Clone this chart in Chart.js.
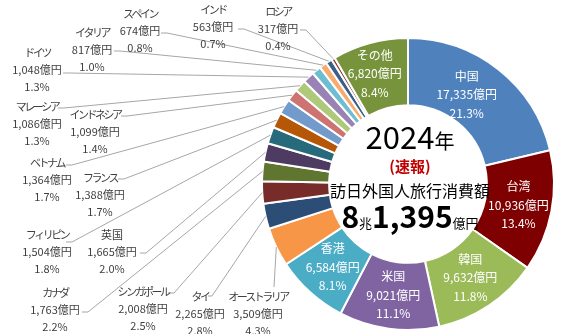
<!DOCTYPE html>
<html>
<head>
<meta charset="utf-8">
<script src="https://cdn.jsdelivr.net/npm/chart.js@4.4.1/dist/chart.umd.min.js"></script>
<style>
    body { margin: 0; background: #fff; }
    #wrap { width: 573px; height: 334px; }
</style>
</head>
<body>
<div id="wrap"><canvas id="spendChart" width="573" height="334"></canvas></div>
<script>
    // 2024年 訪日外国人旅行消費額（速報）国・地域別
    const countries = ['中国', '台湾', '韓国', '米国', '香港', 'オーストラリア', 'タイ', 'シンガポール', 'カナダ', '英国',
        'フィリピン', 'フランス', 'ベトナム', 'インドネシア', 'マレーシア', 'ドイツ', 'イタリア', 'スペイン', 'インド', 'ロシア', 'その他'];
    const spendOku = [17335, 10936, 9632, 9021, 6584, 3509, 2265, 2008, 1763, 1665,
        1504, 1388, 1364, 1099, 1086, 1048, 817, 674, 563, 317, 6820];
    const shares = ['21.3%', '13.4%', '11.8%', '11.1%', '8.1%', '4.3%', '2.8%', '2.5%', '2.2%', '2.0%',
        '1.8%', '1.7%', '1.7%', '1.4%', '1.3%', '1.3%', '1.0%', '0.8%', '0.7%', '0.4%', '8.4%'];
    const sliceColors = ['#4F81BD', '#7F0000', '#9BBB59', '#8064A2', '#4BACC6', '#F79646', '#2C4D75', '#772C2A', '#5F7530', '#4D3B62',
        '#276A7C', '#B65708', '#729ACA', '#CD7371', '#AFC97A', '#9983B5', '#6FBDD1', '#F9AB6B', '#3A5F8B', '#8E3B38', '#77933C'];

    const insideIdx = [0, 1, 2, 3, 4, 20];
    const insideNudge = { 0: [-11, -1], 20: [-4, -2] };
    // outside labels: index -> [text center x, first line y, leader start x, leader start y, elbow]
    const outsideLabels = {
        5: [258, 297, 274, 287, 0],
        6: [200, 297, 208, 296, 4],
        7: [143, 292, 168, 293, 6],
        8: [55, 293, 82, 312, 6],
        9: [112, 235, 140, 253, 6],
        10: [47, 235, 66, 242, 6],
        11: [100, 178, 118, 179, 6],
        12: [47, 163, 66, 165, 6],
        13: [95, 115, 121, 116, 6],
        14: [37, 107, 58, 108, 6],
        15: [37, 53, 63, 73, 6],
        16: [92, 33, 114, 51, 6],
        17: [140, 14, 161, 33, 6],
        18: [213, 10, 238, 29, 6],
        19: [278, 12, 300, 30, 6]
    };

    const FONT = '"Noto Sans CJK JP", "Noto Sans", sans-serif';
    const fmt = v => v.toLocaleString('en-US') + '億円';
    const isKana = s => /[ァ-ヶー]/.test(s);

    const labelPlugin = {
        id: 'sliceLabels',
        afterDatasetsDraw(chart) {
            const ctx = chart.ctx;
            const meta = chart.getDatasetMeta(0);
            ctx.save();
            ctx.textAlign = 'center';
            ctx.textBaseline = 'middle';

            // labels inside the big slices
            ctx.font = '12px ' + FONT;
            ctx.fillStyle = '#ffffff';
            insideIdx.forEach(i => {
                const p = meta.data[i].tooltipPosition();
                const [nx, ny] = insideNudge[i] || [0, 0];
                const lines = [countries[i], fmt(spendOku[i]), shares[i]];
                lines.forEach((t, k) => ctx.fillText(t, p.x + nx, p.y + ny + (k - 1) * 18.5));
            });

            // outside labels with leader lines
            Object.keys(outsideLabels).forEach(key => {
                const i = +key;
                const [tx, ty, sx, sy, elbow] = outsideLabels[key];
                const a = meta.data[i].getProps(['x', 'y', 'startAngle', 'endAngle', 'outerRadius']);
                const mid = (a.startAngle + a.endAngle) / 2;
                const ex = a.x + Math.cos(mid) * a.outerRadius;
                const ey = a.y + Math.sin(mid) * a.outerRadius;
                ctx.strokeStyle = '#A6A6A6';
                ctx.lineWidth = 1;
                ctx.beginPath();
                ctx.moveTo(sx, sy);
                if (elbow) ctx.lineTo(sx + elbow, sy);
                ctx.lineTo(ex, ey);
                ctx.stroke();

                ctx.font = '11px ' + FONT;
                ctx.fillStyle = '#404040';
                [countries[i], fmt(spendOku[i]), shares[i]].forEach((t, k) => {
                    ctx.letterSpacing = (k === 0 && isKana(t)) ? '-2.5px' : '0px';
                    ctx.fillText(t, tx, ty + k * 17);
                });
                ctx.letterSpacing = '0px';
            });

            // centre text
            const c = meta.data[0];
            const cx = c.x, cy = c.y;
            ctx.textBaseline = 'alphabetic';
            ctx.textAlign = 'left';

            const drawRow = (parts, baseY) => {
                let total = 0;
                parts.forEach(p => { ctx.font = p.font; p.w = ctx.measureText(p.text).width; total += p.w; });
                let x = cx - total / 2 + 2;
                parts.forEach(p => { ctx.font = p.font; ctx.fillStyle = p.color || '#000'; ctx.fillText(p.text, x, baseY); x += p.w; });
            };
            drawRow([{ text: '2024', font: '31px ' + FONT }, { text: '年', font: '20px ' + FONT }], cy - 35);
            drawRow([{ text: '(速報)', font: 'bold 15px ' + FONT, color: '#C00000' }], cy - 12);
            drawRow([{ text: '訪日外国人旅行消費額', font: '16px ' + FONT }], cy + 13);
            drawRow([
                { text: '8', font: 'bold 30px ' + FONT },
                { text: '兆', font: '13px ' + FONT },
                { text: '1,395', font: 'bold 30px ' + FONT },
                { text: '億円', font: '13px ' + FONT }
            ], cy + 44);
            ctx.restore();
        }
    };

    const spendChart = new Chart(document.getElementById('spendChart'), {
        type: 'doughnut',
        data: {
            labels: countries,
            datasets: [{
                data: spendOku,
                backgroundColor: sliceColors,
                borderColor: '#ffffff',
                borderWidth: 2
            }]
        },
        options: {
            responsive: false,
            animation: false,
            cutout: '54%',
            layout: { padding: { left: 261, right: 18, top: 37, bottom: 3 } },
            plugins: {
                legend: { display: false },
                tooltip: { enabled: false }
            }
        },
        plugins: [labelPlugin]
    });
</script>
</body>
</html>
